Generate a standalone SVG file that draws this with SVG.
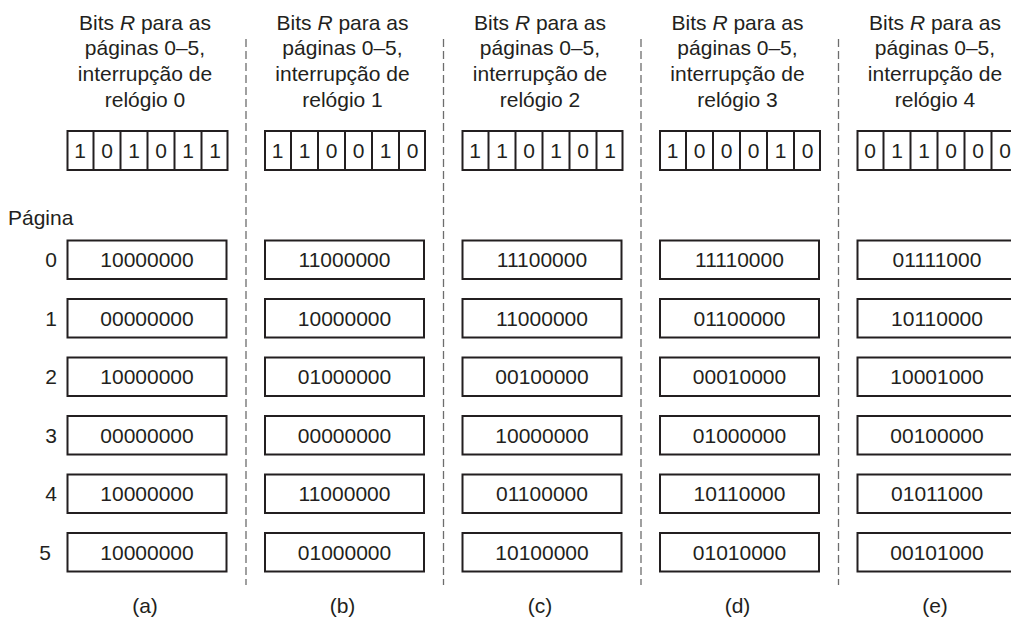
<svg xmlns="http://www.w3.org/2000/svg" width="1011" height="618" viewBox="0 0 1011 618">
<style>
text{font-family:"Liberation Sans",Arial,Helvetica,sans-serif;font-size:21px;fill:#231f20}
.h,.c,.lb{text-anchor:middle}
.box{fill:#fff;stroke:#231f20;stroke-width:2}
.div{stroke:#231f20;stroke-width:2}
.dash{stroke:#6d6d6d;stroke-width:1.3;stroke-dasharray:8 4;fill:none}
</style>
<defs>
<g id="reg">
<rect class="box" x="67.5" y="131" width="160" height="39"/>
<line class="div" x1="93.5" y1="131" x2="93.5" y2="170"/>
<line class="div" x1="120.5" y1="131" x2="120.5" y2="170"/>
<line class="div" x1="147.5" y1="131" x2="147.5" y2="170"/>
<line class="div" x1="174.5" y1="131" x2="174.5" y2="170"/>
<line class="div" x1="201.5" y1="131" x2="201.5" y2="170"/>
</g>
<g id="hdr">
<text class="h" x="145" y="29.5">Bits <tspan font-style="italic">R</tspan> para as</text>
<text class="h" x="145" y="55.2">páginas 0–5,</text>
<text class="h" x="145" y="80.9">interrupção de</text>
</g>
</defs>
<rect width="1011" height="618" fill="#fff"/>
<g id="connectors">
<line class="dash" x1="246" y1="39" x2="246" y2="585"/>
<line class="dash" x1="443.5" y1="39" x2="443.5" y2="585"/>
<line class="dash" x1="641" y1="39" x2="641" y2="585"/>
<line class="dash" x1="838.5" y1="39" x2="838.5" y2="585"/>
</g>
<g id="pagelabels">
<text x="8" y="225">Página</text>
<text class="c" x="51" y="267.3">0</text>
<text class="c" x="51" y="325.8">1</text>
<text class="c" x="51" y="384.3">2</text>
<text class="c" x="51" y="442.8">3</text>
<text class="c" x="51" y="501.3">4</text>
<text class="c" x="45" y="559.8">5</text>
</g>
<g id="col-a">
<g id="a-header"><use href="#hdr"/><text class="h" x="145" y="106.5">relógio 0</text></g>
<g id="a-bits"><use href="#reg"/>
<text class="c" x="80" y="158.4">1</text><text class="c" x="107" y="158.4">0</text><text class="c" x="134" y="158.4">1</text><text class="c" x="161" y="158.4">0</text><text class="c" x="188" y="158.4">1</text><text class="c" x="215" y="158.4">1</text></g>
<g id="a-p0"><rect class="box" x="67.5" y="240.5" width="159" height="38.5"/><text class="c" x="147" y="267.3">10000000</text></g>
<g id="a-p1"><rect class="box" x="67.5" y="299" width="159" height="38.5"/><text class="c" x="147" y="325.8">00000000</text></g>
<g id="a-p2"><rect class="box" x="67.5" y="357.5" width="159" height="38.5"/><text class="c" x="147" y="384.3">10000000</text></g>
<g id="a-p3"><rect class="box" x="67.5" y="416" width="159" height="38.5"/><text class="c" x="147" y="442.8">00000000</text></g>
<g id="a-p4"><rect class="box" x="67.5" y="474.5" width="159" height="38.5"/><text class="c" x="147" y="501.3">10000000</text></g>
<g id="a-p5"><rect class="box" x="67.5" y="533" width="159" height="38.5"/><text class="c" x="147" y="559.8">10000000</text></g>
<text class="lb" x="145" y="613">(a)</text>
</g>
<g id="col-b" transform="translate(197.5,0)">
<g id="b-header"><use href="#hdr"/><text class="h" x="145" y="106.5">relógio 1</text></g>
<g id="b-bits"><use href="#reg"/>
<text class="c" x="80" y="158.4">1</text><text class="c" x="107" y="158.4">1</text><text class="c" x="134" y="158.4">0</text><text class="c" x="161" y="158.4">0</text><text class="c" x="188" y="158.4">1</text><text class="c" x="215" y="158.4">0</text></g>
<g id="b-p0"><rect class="box" x="67.5" y="240.5" width="159" height="38.5"/><text class="c" x="147" y="267.3">11000000</text></g>
<g id="b-p1"><rect class="box" x="67.5" y="299" width="159" height="38.5"/><text class="c" x="147" y="325.8">10000000</text></g>
<g id="b-p2"><rect class="box" x="67.5" y="357.5" width="159" height="38.5"/><text class="c" x="147" y="384.3">01000000</text></g>
<g id="b-p3"><rect class="box" x="67.5" y="416" width="159" height="38.5"/><text class="c" x="147" y="442.8">00000000</text></g>
<g id="b-p4"><rect class="box" x="67.5" y="474.5" width="159" height="38.5"/><text class="c" x="147" y="501.3">11000000</text></g>
<g id="b-p5"><rect class="box" x="67.5" y="533" width="159" height="38.5"/><text class="c" x="147" y="559.8">01000000</text></g>
<text class="lb" x="145" y="613">(b)</text>
</g>
<g id="col-c" transform="translate(395,0)">
<g id="c-header"><use href="#hdr"/><text class="h" x="145" y="106.5">relógio 2</text></g>
<g id="c-bits"><use href="#reg"/>
<text class="c" x="80" y="158.4">1</text><text class="c" x="107" y="158.4">1</text><text class="c" x="134" y="158.4">0</text><text class="c" x="161" y="158.4">1</text><text class="c" x="188" y="158.4">0</text><text class="c" x="215" y="158.4">1</text></g>
<g id="c-p0"><rect class="box" x="67.5" y="240.5" width="159" height="38.5"/><text class="c" x="147" y="267.3">11100000</text></g>
<g id="c-p1"><rect class="box" x="67.5" y="299" width="159" height="38.5"/><text class="c" x="147" y="325.8">11000000</text></g>
<g id="c-p2"><rect class="box" x="67.5" y="357.5" width="159" height="38.5"/><text class="c" x="147" y="384.3">00100000</text></g>
<g id="c-p3"><rect class="box" x="67.5" y="416" width="159" height="38.5"/><text class="c" x="147" y="442.8">10000000</text></g>
<g id="c-p4"><rect class="box" x="67.5" y="474.5" width="159" height="38.5"/><text class="c" x="147" y="501.3">01100000</text></g>
<g id="c-p5"><rect class="box" x="67.5" y="533" width="159" height="38.5"/><text class="c" x="147" y="559.8">10100000</text></g>
<text class="lb" x="145" y="613">(c)</text>
</g>
<g id="col-d" transform="translate(592.5,0)">
<g id="d-header"><use href="#hdr"/><text class="h" x="145" y="106.5">relógio 3</text></g>
<g id="d-bits"><use href="#reg"/>
<text class="c" x="80" y="158.4">1</text><text class="c" x="107" y="158.4">0</text><text class="c" x="134" y="158.4">0</text><text class="c" x="161" y="158.4">0</text><text class="c" x="188" y="158.4">1</text><text class="c" x="215" y="158.4">0</text></g>
<g id="d-p0"><rect class="box" x="67.5" y="240.5" width="159" height="38.5"/><text class="c" x="147" y="267.3">11110000</text></g>
<g id="d-p1"><rect class="box" x="67.5" y="299" width="159" height="38.5"/><text class="c" x="147" y="325.8">01100000</text></g>
<g id="d-p2"><rect class="box" x="67.5" y="357.5" width="159" height="38.5"/><text class="c" x="147" y="384.3">00010000</text></g>
<g id="d-p3"><rect class="box" x="67.5" y="416" width="159" height="38.5"/><text class="c" x="147" y="442.8">01000000</text></g>
<g id="d-p4"><rect class="box" x="67.5" y="474.5" width="159" height="38.5"/><text class="c" x="147" y="501.3">10110000</text></g>
<g id="d-p5"><rect class="box" x="67.5" y="533" width="159" height="38.5"/><text class="c" x="147" y="559.8">01010000</text></g>
<text class="lb" x="145" y="613">(d)</text>
</g>
<g id="col-e" transform="translate(790,0)">
<g id="e-header"><use href="#hdr"/><text class="h" x="145" y="106.5">relógio 4</text></g>
<g id="e-bits"><use href="#reg"/>
<text class="c" x="80" y="158.4">0</text><text class="c" x="107" y="158.4">1</text><text class="c" x="134" y="158.4">1</text><text class="c" x="161" y="158.4">0</text><text class="c" x="188" y="158.4">0</text><text class="c" x="215" y="158.4">0</text></g>
<g id="e-p0"><rect class="box" x="67.5" y="240.5" width="159" height="38.5"/><text class="c" x="147" y="267.3">01111000</text></g>
<g id="e-p1"><rect class="box" x="67.5" y="299" width="159" height="38.5"/><text class="c" x="147" y="325.8">10110000</text></g>
<g id="e-p2"><rect class="box" x="67.5" y="357.5" width="159" height="38.5"/><text class="c" x="147" y="384.3">10001000</text></g>
<g id="e-p3"><rect class="box" x="67.5" y="416" width="159" height="38.5"/><text class="c" x="147" y="442.8">00100000</text></g>
<g id="e-p4"><rect class="box" x="67.5" y="474.5" width="159" height="38.5"/><text class="c" x="147" y="501.3">01011000</text></g>
<g id="e-p5"><rect class="box" x="67.5" y="533" width="159" height="38.5"/><text class="c" x="147" y="559.8">00101000</text></g>
<text class="lb" x="145" y="613">(e)</text>
</g>
</svg>
